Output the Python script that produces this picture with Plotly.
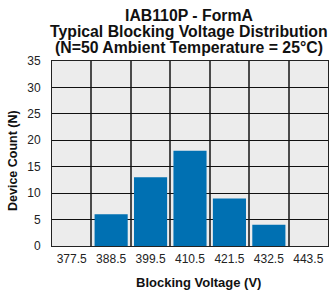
import plotly.graph_objects as go

categories = ["377.5", "388.5", "399.5", "410.5", "421.5", "432.5", "443.5"]
counts = [0, 6, 13, 18, 9, 4, 0]
y_ticks = [0, 5, 10, 15, 20, 25, 30, 35]
title_lines = ["IAB110P - FormA", "Typical Blocking Voltage Distribution", "(N=50 Ambient Temperature = 25°C)"]

x_pos = list(range(len(categories)))

W, H = 333, 295
L, R, T, B = 52, 5, 61, 49
ph = H - T - B


def py(p):
    return (H - B - p) / ph


def px(p):
    return (p - L) / (W - L - R)


fig = go.Figure()
fig.add_trace(go.Bar(x=x_pos, y=counts, width=0.84, marker=dict(color="#0070B2", line=dict(width=0))))

annos = []
for line, yc in zip(title_lines, [15, 31, 47]):
    annos.append(dict(text="<b>" + line + "</b>", x=px(189), y=py(yc), xref="paper", yref="paper",
                      xanchor="center", yanchor="middle", showarrow=False,
                      font=dict(size=15.8, color="#111")))
annos.append(dict(text="<b>Blocking Voltage (V)</b>", x=px(198), y=py(282), xref="paper", yref="paper",
                  xanchor="center", yanchor="middle", showarrow=False, font=dict(size=13, color="#111")))
annos.append(dict(text="<b>Device Count (N)</b>", x=px(13), y=py(161), xref="paper", yref="paper",
                  xanchor="center", yanchor="middle", showarrow=False, textangle=-90,
                  font=dict(size=12.5, color="#111")))

fig.update_layout(
    width=W, height=H,
    margin=dict(l=L, r=R, t=T, b=B, autoexpand=False),
    paper_bgcolor="white",
    plot_bgcolor="#ECECEC",
    showlegend=False,
    font=dict(family="Liberation Sans, Arial", color="#222"),
    annotations=annos,
)

fig.update_xaxes(
    range=[-0.5, 6.5], tickvals=x_pos, ticktext=categories, automargin=False,
    showgrid=False, zeroline=False,
    minor=dict(tick0=0.5, dtick=1, showgrid=True, gridcolor="#4a4a4a", gridwidth=1.5),
    showline=True, linecolor="#222", linewidth=1, mirror=True,
    ticks="", tickfont=dict(size=12, color="#222"), ticklabelstandoff=2,
)
fig.update_yaxes(
    range=[0, 35], tickvals=y_ticks, automargin=False,
    showgrid=True, gridcolor="#111", gridwidth=1, zeroline=False,
    showline=True, linecolor="#222", linewidth=1, mirror=True,
    ticks="", tickfont=dict(size=12, color="#222"), ticklabelstandoff=8,
)

fig.write_html("out.html", config={"displayModeBar": False},
               post_script="document.body.style.margin='0';document.body.style.overflow='hidden';")
